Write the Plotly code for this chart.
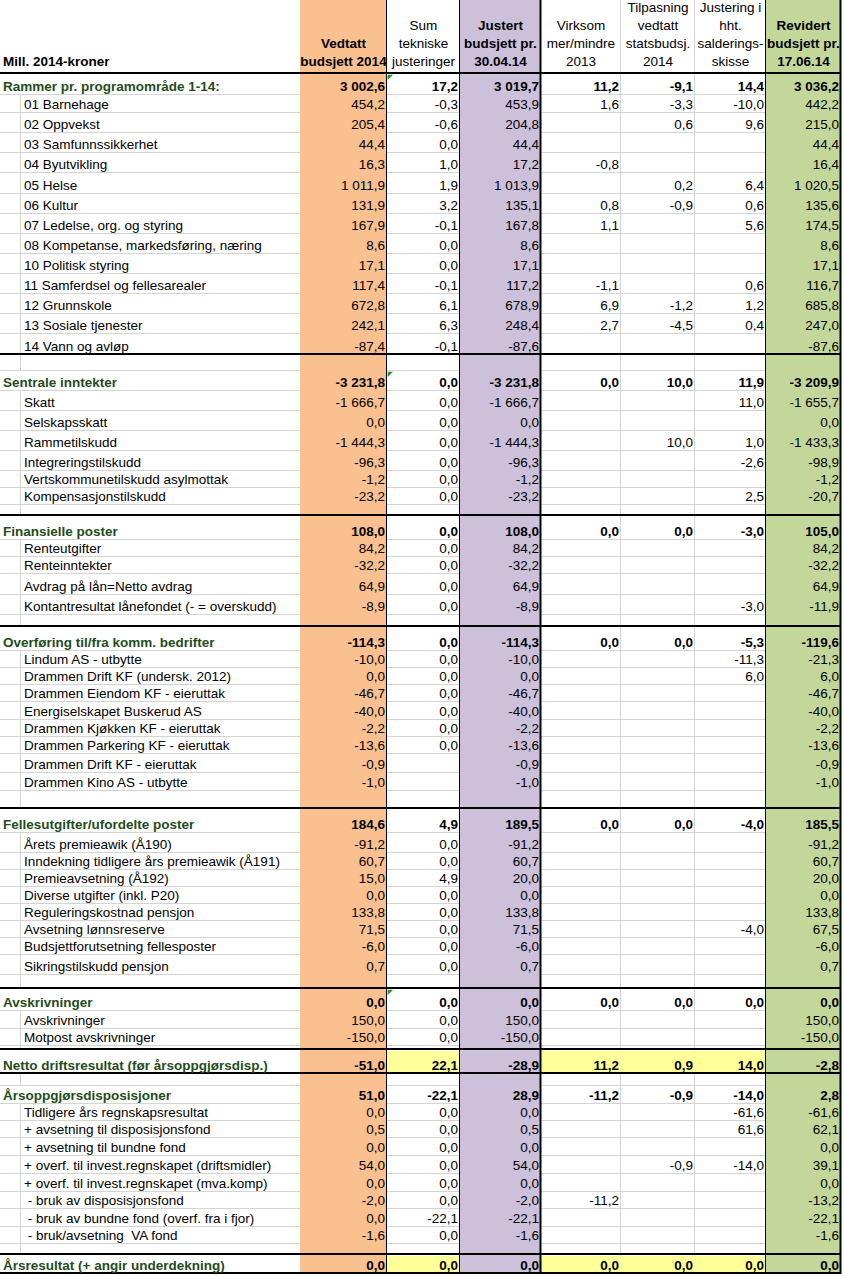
import plotly.graph_objects as go

N = None

# Kolonneoverskrifter (linje for linje, øverst først)
HEADERS = [
    ["Vedtatt", "budsjett 2014"],
    ["Sum", "tekniske", "justeringer"],
    ["Justert", "budsjett pr.", "30.04.14"],
    ["Virksom", "mer/mindre", "2013"],
    ["Tilpasning", "vedtatt", "statsbudsj.", "2014"],
    ["Justering i", "hht.", "salderings-", "skisse"],
    ["Revidert", "budsjett pr.", "17.06.14"],
]
HEADER_BOLD = [True, False, True, False, False, False, True]
UNIT_LABEL = "Mill. 2014-kroner"

# Radtekster. s = seksjon, i = post, b = tom rad, t = resultat
LABELS = [
    "Rammer pr. programområde 1-14:", "01 Barnehage", "02 Oppvekst", "03 Samfunnssikkerhet",
    "04 Byutvikling", "05 Helse", "06 Kultur", "07 Ledelse, org. og styring",
    "08 Kompetanse, markedsføring, næring", "10 Politisk styring", "11 Samferdsel og fellesarealer",
    "12 Grunnskole", "13 Sosiale tjenester", "14 Vann og avløp",
    "",
    "Sentrale inntekter", "Skatt", "Selskapsskatt", "Rammetilskudd", "Integreringstilskudd",
    "Vertskommunetilskudd asylmottak", "Kompensasjonstilskudd",
    "",
    "Finansielle poster", "Renteutgifter", "Renteinntekter", "Avdrag på lån=Netto avdrag",
    "Kontantresultat lånefondet (- = overskudd)",
    "",
    "Overføring til/fra komm. bedrifter", "Lindum AS - utbytte", "Drammen Drift KF (undersk. 2012)",
    "Drammen Eiendom KF - eieruttak", "Energiselskapet Buskerud AS", "Drammen Kjøkken KF - eieruttak",
    "Drammen Parkering KF - eieruttak", "Drammen Drift KF - eieruttak", "Drammen Kino AS - utbytte",
    "",
    "Fellesutgifter/ufordelte poster", "Årets premieawik (Å190)",
    "Inndekning tidligere års premieawik (Å191)", "Premieavsetning (Å192)",
    "Diverse utgifter (inkl. P20)", "Reguleringskostnad pensjon", "Avsetning lønnsreserve",
    "Budsjettforutsetning fellesposter", "Sikringstilskudd pensjon",
    "",
    "Avskrivninger", "Avskrivninger", "Motpost avskrivninger",
    "",
    "Netto driftsresultat (før årsoppgjørsdisp.)",
    "",
    "Årsoppgjørsdisposisjoner",
    "Tidligere års regnskapsresultat", "+ avsetning til disposisjonsfond",
    "+ avsetning til bundne fond", "+ overf. til invest.regnskapet (driftsmidler)",
    "+ overf. til invest.regnskapet (mva.komp)", "\u00a0- bruk av disposisjonsfond",
    "\u00a0- bruk av bundne fond (overf. fra i fjor)", "\u00a0- bruk/avsetning\u00a0 VA fond",
    "",
    "Årsresultat (+ angir underdekning)",
]
KINDS = (["s"] + ["i"] * 13 + ["b"]
         + ["s"] + ["i"] * 6 + ["b"]
         + ["s"] + ["i"] * 4 + ["b"]
         + ["s"] + ["i"] * 8 + ["b"]
         + ["s"] + ["i"] * 8 + ["b"]
         + ["s"] + ["i"] * 2 + ["b"]
         + ["t", "b"]
         + ["s"] + ["i"] * 8 + ["b"]
         + ["t"])

VEDTATT = [
    3002.6, 454.2, 205.4, 44.4, 16.3, 1011.9, 131.9, 167.9, 8.6, 17.1, 117.4, 672.8, 242.1, -87.4,
    N, -3231.8, -1666.7, 0.0, -1444.3, -96.3, -1.2, -23.2,
    N, 108.0, 84.2, -32.2, 64.9, -8.9,
    N, -114.3, -10.0, 0.0, -46.7, -40.0, -2.2, -13.6, -0.9, -1.0,
    N, 184.6, -91.2, 60.7, 15.0, 0.0, 133.8, 71.5, -6.0, 0.7,
    N, 0.0, 150.0, -150.0,
    N, -51.0,
    N, 51.0, 0.0, 0.5, 0.0, 54.0, 0.0, -2.0, 0.0, -1.6,
    N, 0.0,
]
SUM_TEKNISKE = [
    17.2, -0.3, -0.6, 0.0, 1.0, 1.9, 3.2, -0.1, 0.0, 0.0, -0.1, 6.1, 6.3, -0.1,
    N, 0.0, 0.0, 0.0, 0.0, 0.0, 0.0, 0.0,
    N, 0.0, 0.0, 0.0, 0.0, 0.0,
    N, 0.0, 0.0, 0.0, 0.0, 0.0, 0.0, 0.0, N, N,
    N, 4.9, 0.0, 0.0, 4.9, 0.0, 0.0, 0.0, 0.0, 0.0,
    N, 0.0, 0.0, 0.0,
    N, 22.1,
    N, -22.1, 0.0, 0.0, 0.0, 0.0, 0.0, 0.0, -22.1, 0.0,
    N, 0.0,
]
JUSTERT = [
    3019.7, 453.9, 204.8, 44.4, 17.2, 1013.9, 135.1, 167.8, 8.6, 17.1, 117.2, 678.9, 248.4, -87.6,
    N, -3231.8, -1666.7, 0.0, -1444.3, -96.3, -1.2, -23.2,
    N, 108.0, 84.2, -32.2, 64.9, -8.9,
    N, -114.3, -10.0, 0.0, -46.7, -40.0, -2.2, -13.6, -0.9, -1.0,
    N, 189.5, -91.2, 60.7, 20.0, 0.0, 133.8, 71.5, -6.0, 0.7,
    N, 0.0, 150.0, -150.0,
    N, -28.9,
    N, 28.9, 0.0, 0.5, 0.0, 54.0, 0.0, -2.0, -22.1, -1.6,
    N, 0.0,
]
VIRKSOM = [
    11.2, 1.6, N, N, -0.8, N, 0.8, 1.1, N, N, -1.1, 6.9, 2.7, N,
    N, 0.0, N, N, N, N, N, N,
    N, 0.0, N, N, N, N,
    N, 0.0, N, N, N, N, N, N, N, N,
    N, 0.0, N, N, N, N, N, N, N, N,
    N, 0.0, N, N,
    N, 11.2,
    N, -11.2, N, N, N, N, N, -11.2, N, N,
    N, 0.0,
]
TILPASNING = [
    -9.1, -3.3, 0.6, N, N, 0.2, -0.9, N, N, N, N, -1.2, -4.5, N,
    N, 10.0, N, N, 10.0, N, N, N,
    N, 0.0, N, N, N, N,
    N, 0.0, N, N, N, N, N, N, N, N,
    N, 0.0, N, N, N, N, N, N, N, N,
    N, 0.0, N, N,
    N, 0.9,
    N, -0.9, N, N, N, -0.9, N, N, N, N,
    N, 0.0,
]
JUSTERING = [
    14.4, -10.0, 9.6, N, N, 6.4, 0.6, 5.6, N, N, 0.6, 1.2, 0.4, N,
    N, 11.9, 11.0, N, 1.0, -2.6, N, 2.5,
    N, -3.0, N, N, N, -3.0,
    N, -5.3, -11.3, 6.0, N, N, N, N, N, N,
    N, -4.0, N, N, N, N, N, -4.0, N, N,
    N, 0.0, N, N,
    N, 14.0,
    N, -14.0, -61.6, 61.6, N, -14.0, N, N, N, N,
    N, 0.0,
]
REVIDERT = [
    3036.2, 442.2, 215.0, 44.4, 16.4, 1020.5, 135.6, 174.5, 8.6, 17.1, 116.7, 685.8, 247.0, -87.6,
    N, -3209.9, -1655.7, 0.0, -1433.3, -98.9, -1.2, -20.7,
    N, 105.0, 84.2, -32.2, 64.9, -11.9,
    N, -119.6, -21.3, 6.0, -46.7, -40.0, -2.2, -13.6, -0.9, -1.0,
    N, 185.5, -91.2, 60.7, 20.0, 0.0, 133.8, 67.5, -6.0, 0.7,
    N, 0.0, 150.0, -150.0,
    N, -2.8,
    N, 2.8, -61.6, 62.1, 0.0, 39.1, 0.0, -13.2, -22.1, -1.6,
    N, 0.0,
]
COLUMNS = [VEDTATT, SUM_TEKNISKE, JUSTERT, VIRKSOM, TILPASNING, JUSTERING, REVIDERT]

# rader med grønn feilmarkering (Excel) i kolonnen "Sum tekniske"
FLAGGED_ROWS = [0, 15, 49]

# ---- utseende (piksler) ----
W, H = 843, 1276
COL_EDGES = [0, 21, 300, 387, 460, 541, 621, 695, 766, 841]
HEADER_H = 74
ROW_HEIGHTS = [21, 18, 20, 20, 20, 21, 20, 20, 20, 20, 20, 20, 20, 21,
               16, 20, 20, 20, 20, 20, 17, 17,
               11, 24, 17, 17, 21, 20,
               12, 24, 17, 17, 17, 18, 17, 17, 19, 18,
               18, 24, 20, 17, 17, 17, 17, 17, 17, 20,
               14, 22, 18, 17,
               4, 24,
               12, 18, 17, 17, 18, 18, 18, 17, 18, 17,
               11, 19]
BLACK_AFTER = [13, 22, 28, 38, 48, 52, 53, 64, 65]
BLACK_VERT = [387, 460, 541, 766, 841]
FONT = "Liberation Sans Narrow, Arial Narrow, Liberation Sans, sans-serif"
FS = 13.5
GREEN_TXT = "#1f4d1b"
GRID = "#d4d4d4"
COL_FILL = {0: "#fac090", 2: "#ccc0da", 6: "#c4d79b"}
YELLOW = "#ffff99"


def fmt(v):
    if v is None:
        return ""
    s = f"{abs(v):,.1f}".replace(",", " ").replace(".", ",")
    return ("-" if v < 0 else "") + s


# rad-posisjoner
bottoms = []
y = HEADER_H
for h in ROW_HEIGHTS:
    y += h
    bottoms.append(y)
tops = [HEADER_H] + bottoms[:-1]
text_y = [b - 7.5 for b in bottoms]
table_bottom = bottoms[-1]
strong = [k in ("s", "t") for k in KINDS]

fig = go.Figure()

# radtekster
fig.add_trace(go.Scatter(
    x=[3 if s else 24 for s in strong],
    y=text_y,
    text=[f"<b>{t}</b>" if s and t else t for t, s in zip(LABELS, strong)],
    mode="text",
    textposition="middle right",
    textfont=dict(family=FONT, size=FS, color=[GREEN_TXT if s else "black" for s in strong]),
    hoverinfo="skip",
    showlegend=False,
))

# tallkolonner
for i, vals in enumerate(COLUMNS):
    right = COL_EDGES[3 + i]
    fig.add_trace(go.Scatter(
        x=[right - 2] * len(vals),
        y=text_y,
        text=[f"<b>{fmt(v)}</b>" if s and v is not None else fmt(v) for v, s in zip(vals, strong)],
        mode="text",
        textposition="middle left",
        textfont=dict(family=FONT, size=FS, color="black"),
        hoverinfo="skip",
        showlegend=False,
    ))

# kolonneoverskrifter, nederste linje nederst
hx, hy, ht = [], [], []
for i, lines in enumerate(HEADERS):
    cx = (COL_EDGES[2 + i] + COL_EDGES[3 + i]) / 2
    for k, line in enumerate(reversed(lines)):
        hx.append(cx)
        hy.append(HEADER_H - 11 - 18 * k)
        ht.append(f"<b>{line}</b>" if HEADER_BOLD[i] else line)
hx.append(3)
hy.append(HEADER_H - 11)
ht.append(f"<b>{UNIT_LABEL}</b>")
fig.add_trace(go.Scatter(
    x=hx, y=hy, text=ht, mode="text",
    textposition=["middle center"] * (len(ht) - 1) + ["middle right"],
    textfont=dict(family=FONT, size=FS, color="black"),
    hoverinfo="skip", showlegend=False,
))

# små grønne hjørnetrekanter
fig.add_trace(go.Scatter(
    x=[COL_EDGES[3] + 2.5] * len(FLAGGED_ROWS),
    y=[tops[r] + 2.5 for r in FLAGGED_ROWS],
    mode="markers",
    marker=dict(symbol="triangle-nw", size=6, color="#2f8f2f", line=dict(width=0)),
    hoverinfo="skip", showlegend=False,
))

shapes = []


def line(x0, y0, x1, y1, color, width):
    shapes.append(dict(type="line", x0=x0, y0=y0, x1=x1, y1=y1, xref="x", yref="y",
                       line=dict(color=color, width=width), layer="below"))


# fargede kolonner
for i, c in COL_FILL.items():
    shapes.append(dict(type="rect", x0=COL_EDGES[2 + i], x1=COL_EDGES[3 + i], y0=0, y1=table_bottom,
                       xref="x", yref="y", fillcolor=c, line=dict(width=0), layer="below"))

# rutenett
white_spans = [(0, 300), (387, 460), (541, 766)]
for r, b in enumerate(bottoms):
    for x0, x1 in white_spans:
        line(x0, b - 0.5, x1, b - 0.5, GRID, 1)
    if not strong[r]:
        line(20.5, tops[r], 20.5, b, GRID, 1)
for gx in (621, 695):
    line(gx - 0.5, 0, gx - 0.5, table_bottom, GRID, 1)

# gule resultatceller
for r, k in enumerate(KINDS):
    if k == "t":
        for i in (1, 3, 4, 5):
            shapes.append(dict(type="rect", x0=COL_EDGES[2 + i], x1=COL_EDGES[3 + i],
                               y0=tops[r] + 1, y1=bottoms[r] - 1, xref="x", yref="y",
                               fillcolor=YELLOW, line=dict(width=0), layer="below"))

# svarte streker
line(0, HEADER_H - 1, 841, HEADER_H - 1, "black", 2)
for r in BLACK_AFTER:
    line(0, bottoms[r] - 1, 841, bottoms[r] - 1, "black", 2)
for vx in BLACK_VERT:
    line(vx - 0.5, 0, vx - 0.5, table_bottom, "black", 2 if vx in (541, 841) else 1)

fig.update_layout(
    width=W, height=H,
    margin=dict(l=0, r=0, t=0, b=0),
    paper_bgcolor="white", plot_bgcolor="white",
    xaxis=dict(range=[0, W], visible=False, fixedrange=True),
    yaxis=dict(range=[H, 0], visible=False, fixedrange=True),
    shapes=shapes,
)

fig.write_html("out.html", config={"displayModeBar": False},
               post_script="document.body.style.margin='0';")
